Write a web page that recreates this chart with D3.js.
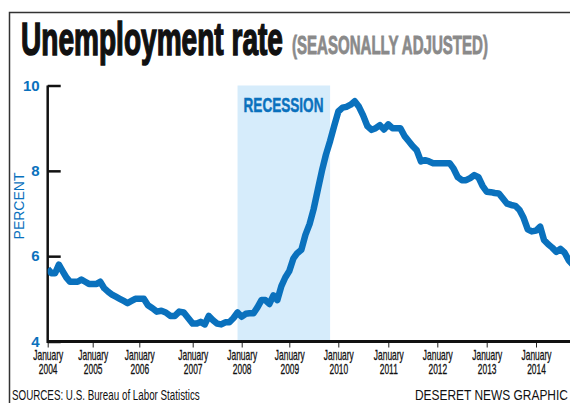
<!DOCTYPE html>
<html>
<head>
<meta charset="utf-8">
<title>Unemployment rate</title>
<script src="https://d3js.org/d3.v7.min.js"></script>
<style>
  body { margin: 0; background: #fff; }
  svg { display: block; }
</style>
</head>
<body>
<script>
// monthly rate, Jan 2004 onward
const firstMonth = [2004, 0]
const rates = [
  5.70, 5.60, 5.60, 5.80, 5.65, 5.50, 5.40, 5.40, 5.40, 5.45, 5.40, 5.35,
  5.35, 5.35, 5.40, 5.25, 5.17, 5.10, 5.05, 5.00, 4.95, 4.90, 4.95, 5.00,
  5.00, 5.00, 4.85, 4.78, 4.70, 4.72, 4.68, 4.60, 4.60, 4.70, 4.68, 4.55,
  4.42, 4.42, 4.46, 4.40, 4.60, 4.50, 4.42, 4.40, 4.45, 4.45, 4.55, 4.68,
  4.58, 4.65, 4.66, 4.66, 4.80, 4.97, 4.97, 4.88, 5.08, 4.97, 5.30, 5.50,
  5.65, 5.95, 6.07, 6.15, 6.50, 6.75, 7.10, 7.55, 8.00, 8.38, 8.70, 9.05,
  9.39, 9.48, 9.50, 9.55, 9.63, 9.50, 9.30, 9.05, 8.96, 9.00, 9.07, 8.97,
  9.09, 9.00, 9.00, 9.00, 8.82, 8.70, 8.58, 8.48, 8.22, 8.25, 8.22, 8.18,
  8.18, 8.18, 8.18, 8.18, 8.05, 7.85, 7.78, 7.78, 7.83, 7.90, 7.85, 7.65,
  7.51, 7.50, 7.48, 7.47, 7.35, 7.23, 7.20, 7.18, 7.08, 6.90, 6.63, 6.58,
  6.60, 6.69, 6.38, 6.28, 6.20, 6.10, 6.17, 6.08, 5.90, 5.80
]
const tickYears = [2004, 2005, 2006, 2007, 2008, 2009, 2010, 2011, 2012, 2013, 2014]
const yTicks = [4, 6, 8, 10]
const recessionStart = [2007, 11]
const recessionEnd = [2009, 10]

const width = 570
const height = 403
const blue = "#0a71bd"

const data = rates.map((r, i) => ({date: new Date(firstMonth[0], firstMonth[1] + i, 1), rate: r}))

const svg = d3.select("body").append("svg")
    .attr("width", width)
    .attr("height", height)

// squeeze a text horizontally so it spans w pixels from x
function fit(text, xPos, yPos, w) {
  const natural = text.node().getComputedTextLength()
  text.attr("transform", `translate(${xPos},${yPos}) scale(${w / natural},1)`)
  return text
}

// the printed axis is not spaced quite evenly, so the time scale is piecewise
const x = d3.scaleTime()
    .domain(tickYears.map(yr => new Date(yr, 0, 1)))
    .range([47.7, 92.7, 139.3, 192.7, 241.7, 289.3, 338.3, 388.3, 437.3, 486.7, 536])

const y = d3.scaleLinear()
    .domain([4, 10])
    .range([341.5, 85.5])

svg.append("defs").append("clipPath").attr("id", "plot")
  .append("rect")
    .attr("x", x.range()[0]).attr("y", 60)
    .attr("width", width - x.range()[0]).attr("height", 300)

// frame
svg.append("path")
    .attr("d", `M9.5,${height}V12.5H${width}`)
    .attr("fill", "none")
    .attr("stroke", "#333")
    .attr("stroke-width", 1.5)

// title
fit(svg.append("text")
    .style("font", "bold 46px 'Liberation Sans', Arial, sans-serif")
    .attr("fill", "#111")
    .attr("stroke", "#111")
    .attr("stroke-width", 1.6)
    .text("Unemployment rate"), 21, 55, 262)

fit(svg.append("text")
    .style("font", "bold 25px 'Liberation Sans', Arial, sans-serif")
    .attr("fill", "#8a8a8a")
    .attr("stroke", "#8a8a8a")
    .attr("stroke-width", 0.8)
    .text("(SEASONALLY ADJUSTED)"), 292, 54, 196)

// recession band
const r0 = new Date(recessionStart[0], recessionStart[1], 1)
const r1 = new Date(recessionEnd[0], recessionEnd[1], 1)
svg.append("rect")
    .attr("x", x(r0))
    .attr("y", y(10))
    .attr("width", x(r1) - x(r0))
    .attr("height", y(4) - y(10))
    .attr("fill", "#d6ecfb")

fit(svg.append("text")
    .style("font", "bold 21px 'Liberation Sans', Arial, sans-serif")
    .attr("fill", blue)
    .attr("stroke", blue)
    .attr("stroke-width", 0.5)
    .text("RECESSION"), x(r0) + 6, 112, 80)

// y axis
const gy = svg.append("g")
    .attr("transform", `translate(${x.range()[0]},0)`)
    .call(d3.axisLeft(y).tickValues(yTicks).tickSize(-13).tickPadding(8).tickFormat(d3.format("d")))
gy.select(".domain").remove()
gy.selectAll(".tick line").attr("stroke", "#111").attr("stroke-width", 2.5)
gy.selectAll(".tick text")
    .attr("fill", blue)
    .attr("dy", "0.3em")
    .style("font", "bold 15px 'Liberation Sans', Arial, sans-serif")

svg.append("text")
    .attr("transform", `translate(24,206) rotate(-90)`)
    .attr("text-anchor", "middle")
    .attr("fill", blue)
    .style("font", "14px 'Liberation Sans', Arial, sans-serif")
    .text("PERCENT")

// x axis
const gx = svg.append("g")
    .attr("transform", `translate(0,${y(4)})`)
    .call(d3.axisBottom(x).tickValues(tickYears.map(yr => new Date(yr, 0, 1))).tickSize(6).tickFormat(""))
gx.select(".domain").remove()
gx.selectAll(".tick line").attr("stroke", "#222").attr("stroke-width", 1)
gx.selectAll(".tick").each(function(d) {
  const t = d3.select(this).append("text")
      .attr("transform", "scale(0.6,1)")
      .attr("text-anchor", "middle")
      .attr("fill", "#111")
      .attr("stroke", "#111")
      .attr("stroke-width", 0.3)
      .style("font", "14px 'Liberation Sans', Arial, sans-serif")
  t.append("tspan").attr("x", 0).attr("y", 19).text("January")
  t.append("tspan").attr("x", 0).attr("y", 33).text(d.getFullYear())
})

svg.append("line")
    .attr("x1", x.range()[0]).attr("x2", width)
    .attr("y1", y(4)).attr("y2", y(4))
    .attr("stroke", "#111").attr("stroke-width", 3)
svg.append("line")
    .attr("x1", x.range()[0]).attr("x2", x.range()[0])
    .attr("y1", y(10)).attr("y2", y(4) + 1.5)
    .attr("stroke", "#111").attr("stroke-width", 2.5)

// the rate line
svg.append("path")
    .datum(data)
    .attr("clip-path", "url(#plot)")
    .attr("fill", "none")
    .attr("stroke", blue)
    .attr("stroke-width", 6.5)
    .attr("stroke-linejoin", "round")
    .attr("stroke-linecap", "butt")
    .attr("d", d3.line().x(d => x(d.date)).y(d => y(d.rate)))

// footer
fit(svg.append("text")
    .style("font", "15px 'Liberation Sans', Arial, sans-serif")
    .attr("fill", "#111")
    .text("SOURCES: U.S. Bureau of Labor Statistics"), 12, 400, 188)

fit(svg.append("text")
    .style("font", "14px 'Liberation Sans', Arial, sans-serif")
    .attr("fill", "#111")
    .text("DESERET NEWS GRAPHIC"), 415, 400, 153)
</script>
</body>
</html>
